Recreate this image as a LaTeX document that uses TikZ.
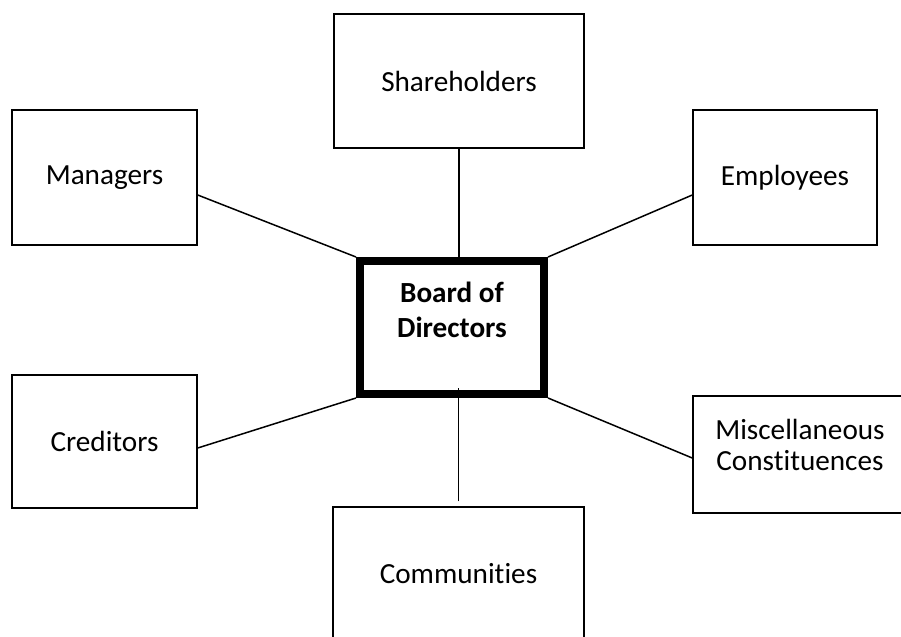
\documentclass[tikz,border=0pt]{standalone}
\usepackage{fontspec}
\setmainfont{Carlito}[Ligatures=NoCommon]
\usetikzlibrary{calc}
\begin{document}
\begin{tikzpicture}[x=0.5pt,y=-0.5pt,
  party/.style={draw=black, line width=0.75pt, fill=white, align=center,
    inner sep=0pt, font=\fontsize{14.6}{15.5}\selectfont},
  boardbox/.style={draw=black, line width=4pt, fill=white, align=center,
    inner sep=0pt, minimum width=92pt, minimum height=66.5pt,
    font=\fontsize{14.6}{17.5}\selectfont\bfseries},
  link/.style={draw=black, line width=0.75pt}]
\useasboundingbox (0,0) rectangle (901,637);

% central board
\node[boardbox] (board) at (452,327.5) {Board of\\Directors\\\mbox{}};

% surrounding constituencies
\node[party, minimum width=125pt, minimum height=67pt] (sh)   at (459,81)    {Shareholders};
\node[party, minimum width=92.5pt, minimum height=67.5pt] (man) at (104.5,177.5) {Managers};
\node[party, minimum width=92pt, minimum height=67.5pt] (emp)  at (785,177.5) {Employees};
\node[party, minimum width=92.5pt, minimum height=66.5pt] (cred) at (104.5,441.5) {Creditors};
\node[party, minimum width=107pt, minimum height=58.5pt, text depth=10pt] (misc) at (800,454.5) {Miscellaneous\\Constituences};
\node[party, minimum width=125.5pt, minimum height=67pt] (comm) at (458.5,574) {Communities};

% connectors
\draw[link] (sh.south) -- (sh.south |- board.north);
\draw[link] ($(man.east)+(0,17.5)$) -- (board.north west);
\draw[link] ($(emp.west)+(0,17.5)$) -- (board.north east);
\draw[link] ($(cred.east)+(0,6.5)$) -- (board.south west);
\draw[link] ($(misc.west)+(0,3.5)$) -- (board.south east);
\draw[link] ($(comm.north)+(0,-5)$) -- ($(comm.north |- board.south)+(0,-10)$);
\end{tikzpicture}
\end{document}
